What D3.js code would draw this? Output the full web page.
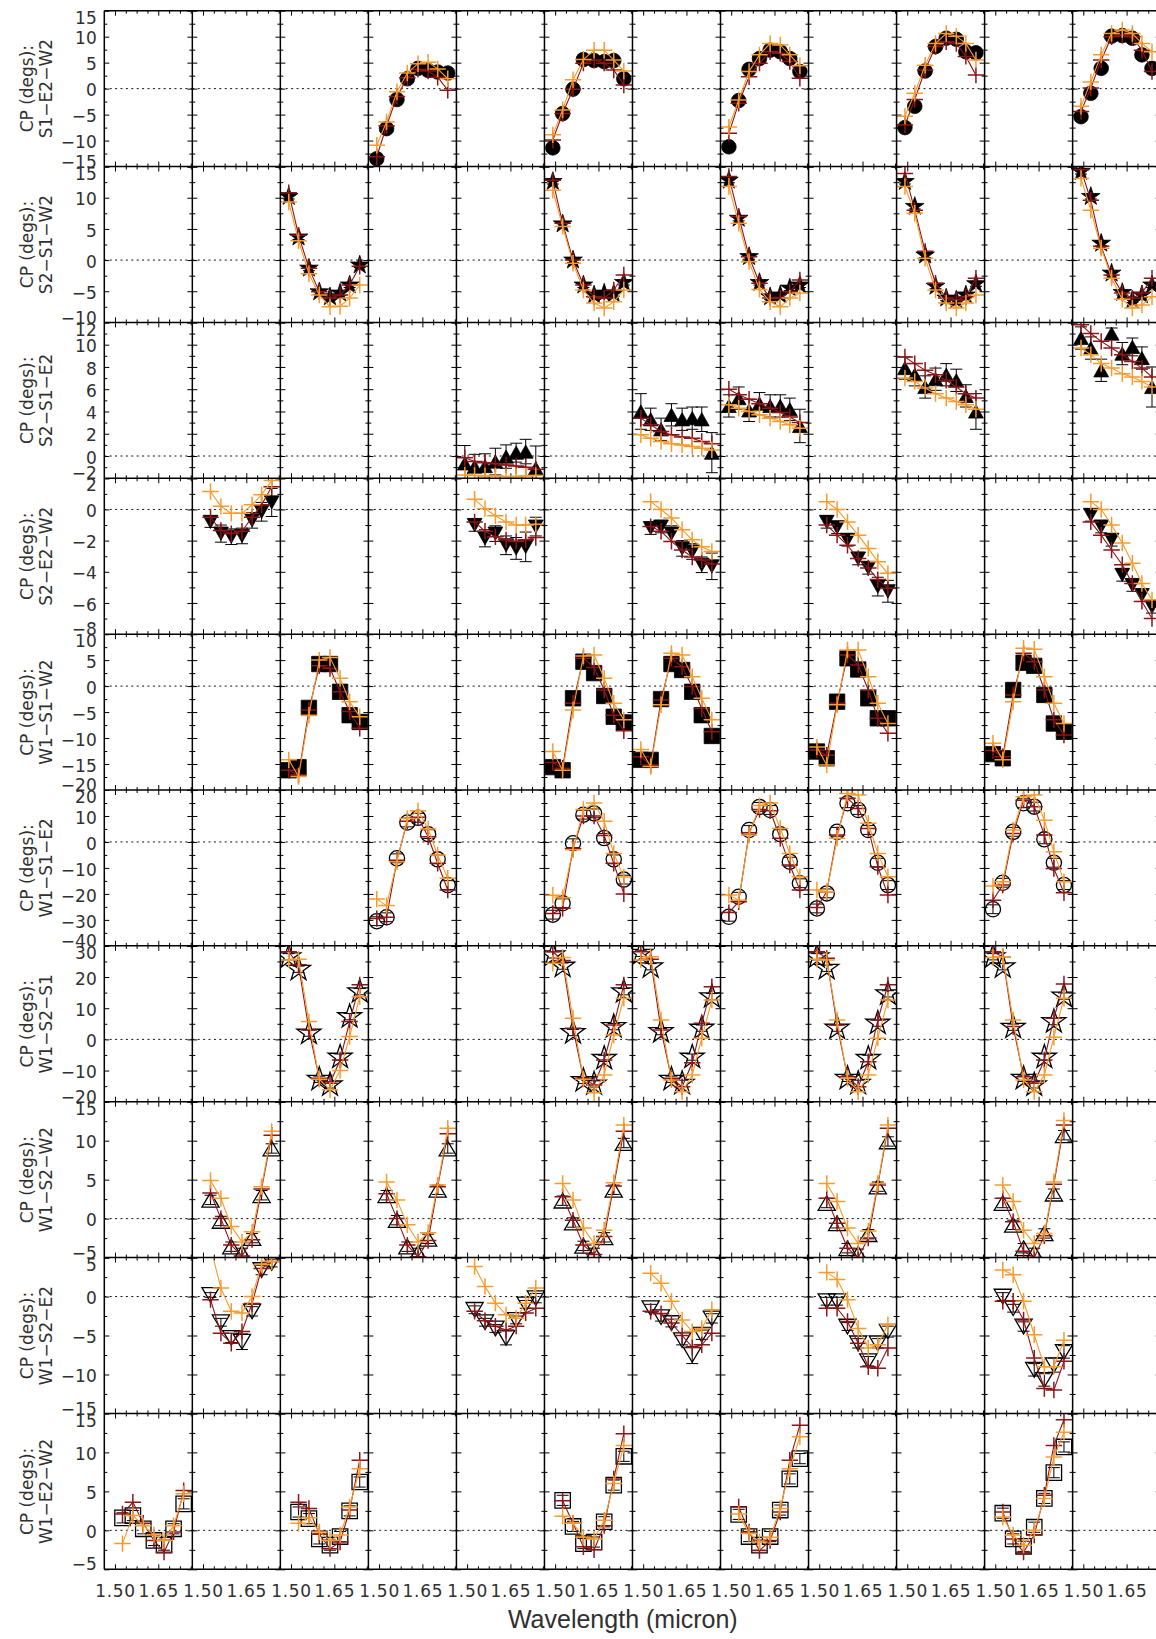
<!DOCTYPE html>
<html>
<head>
<meta charset="utf-8">
<script src="https://cdn.jsdelivr.net/npm/d3@7"></script>
<style>
  html, body { margin: 0; padding: 0; background: #ffffff; }
  svg { display: block; }
</style>
</head>
<body>
<svg id="chart" width="1156" height="1639"></svg>
<script>
// ---------------------------------------------------------------
// Closure phases per baseline triangle vs. spectral channel
// ---------------------------------------------------------------

// spectral channels (micron)
const wavelength = [1.492, 1.526, 1.562, 1.598, 1.635, 1.670, 1.703, 1.738];
const xTicks = [1.50, 1.65];
const xMinorTicks = [1.5375, 1.575, 1.6125, 1.6875, 1.725, 1.7625];
const xDomain = [1.463, 1.768];

// one row per triangle
const triangleNames = ["S1−E2−W2", "S2−S1−W2", "S2−S1−E2", "S2−E2−W2", "W1−S1−W2",
                       "W1−S1−E2", "W1−S2−S1", "W1−S2−W2", "W1−S2−E2", "W1−E2−W2"];
const yRanges = [[-15, 15], [-10, 15], [-2, 12], [-8, 2], [-20, 10],
                 [-40, 20], [-20, 30], [-5, 15], [-15, 5], [-5, 15]];
const yTickSteps = [5, 5, 2, 2, 5, 10, 10, 5, 5, 5];

// --- S1-E2-W2 ---
const S1E2W2_cols = [4, 6, 8, 10, 12];
const S1E2W2_cp = [
  [-13.5, -7.7, -2.1, 1.9, 3.9, 3.5, 3.2, 3.0],
  [-11.4, -4.8, -0.1, 5.6, 5.4, 5.2, 5.4, 1.9],
  [-11.2, -2.3, 3.7, 5.8, 7.4, 7.1, 5.8, 3.3],
  [-7.5, -3.4, 3.4, 8.1, 9.7, 9.5, 7.1, 6.9],
  [-5.4, -0.9, 3.9, 10.1, 10.2, 9.7, 6.5, 3.9]];
const S1E2W2_err = [
  [0.4, 0.4, 0.4, 0.4, 0.4, 0.4, 0.4, 0.4],
  [0.4, 0.4, 0.4, 0.4, 0.4, 0.4, 0.4, 0.4],
  [0.4, 0.4, 0.4, 0.4, 0.4, 0.4, 0.4, 0.4],
  [0.4, 0.4, 0.4, 0.4, 0.4, 0.4, 0.4, 0.4],
  [0.4, 0.4, 0.4, 0.4, 0.4, 0.4, 0.4, 0.4]];
const S1E2W2_model1 = [
  [-13.1, -7.2, -1.5, 2.1, 3.7, 3.4, 2.2, -0.3],
  [-9.9, -4.8, -0.1, 4.9, 5.5, 4.9, 3.6, 0.7],
  [-8.6, -2.8, 2.3, 4.9, 7.1, 6.8, 5.2, 2.0],
  [-7.0, -2.1, 3.6, 8.1, 9.0, 8.7, 6.2, 2.6],
  [-4.4, 0.1, 5.5, 10.0, 10.3, 10.0, 7.4, 3.3]];
const S1E2W2_model2 = [
  [-10.9, -6.4, -0.6, 3.0, 4.8, 5.1, 3.8, 1.9],
  [-8.9, -4.1, 1.7, 5.6, 7.4, 7.4, 5.5, 3.4],
  [-7.4, -2.2, 3.3, 6.5, 8.7, 8.4, 6.5, 4.4],
  [-5.3, -0.9, 4.5, 8.7, 10.6, 10.1, 8.7, 5.5],
  [-3.4, 1.3, 6.5, 10.6, 11.3, 10.6, 8.7, 7.1]];

// --- S2-S1-W2 ---
const S2S1W2_cols = [3, 6, 8, 10, 12];
const S2S1W2_cp = [
  [10.2, 3.7, -1.3, -5.1, -5.9, -5.3, -4.0, -0.8],
  [12.6, 5.8, 0.0, -4.0, -5.6, -5.3, -5.4, -3.6],
  [12.8, 6.7, 0.55, -3.6, -5.9, -5.6, -4.5, -4.0],
  [12.6, 8.6, 0.8, -4.2, -6.1, -6.4, -5.6, -3.8],
  [14.2, 10.2, 2.7, -2.1, -5.2, -6.4, -5.6, -4.0]];
const S2S1W2_err = [
  [0.4, 0.4, 0.4, 0.4, 0.4, 0.4, 0.4, 0.4],
  [0.4, 0.4, 0.4, 0.4, 0.4, 0.4, 0.4, 0.4],
  [0.4, 0.4, 0.4, 0.4, 0.4, 0.4, 0.4, 0.4],
  [0.4, 0.4, 0.4, 0.4, 0.4, 0.4, 0.4, 0.4],
  [0.4, 0.4, 0.4, 0.4, 0.4, 0.4, 0.4, 0.4]];
const S2S1W2_model1 = [
  [10.8, 4.0, -1.3, -5.1, -6.1, -5.6, -4.0, -1.0],
  [12.8, 5.9, 0.0, -4.0, -5.9, -6.1, -4.8, -2.4],
  [13.4, 7.0, 0.55, -3.7, -6.1, -6.1, -5.1, -3.2],
  [13.9, 8.0, 1.4, -3.7, -6.1, -6.4, -5.9, -2.9],
  [14.5, 9.6, 2.2, -2.4, -5.3, -6.1, -5.3, -2.9]];
const S2S1W2_model2 = [
  [9.3, 3.1, -2.2, -5.6, -7.5, -7.4, -6.1, -4.0],
  [11.2, 5.4, -0.5, -4.8, -6.9, -7.7, -6.7, -4.8],
  [11.8, 5.9, -0.25, -4.7, -6.7, -7.5, -6.1, -5.3],
  [11.8, 7.5, 0.3, -4.8, -6.9, -7.7, -6.9, -5.6],
  [13.1, 8.0, 1.9, -2.9, -6.3, -7.7, -7.2, -5.9]];

// --- S2-S1-E2 ---
const S2S1E2_cols = [5, 7, 8, 10, 12];
const S2S1E2_cp = [
  [-0.66, -0.95, -0.9, -0.5, -0.05, 0.3, 0.4, -1.1],
  [4.0, 3.3, 2.4, 3.7, 3.3, 3.4, 3.3, 0.3],
  [4.5, 5.2, 4.1, 4.7, 4.5, 4.5, 4.2, 2.7],
  [7.9, 7.3, 6.2, 6.9, 7.3, 6.8, 5.4, 4.0],
  [10.6, 9.7, 7.7, 11.0, 9.2, 9.8, 8.8, 6.2]];
const S2S1E2_err = [
  [1.6, 1.1, 1.1, 1.2, 1.05, 0.85, 1.1, 2.0],
  [1.6, 1.0, 1.0, 1.0, 1.0, 1.0, 1.1, 1.8],
  [1.0, 1.0, 1.0, 1.0, 1.0, 1.0, 1.0, 1.5],
  [1.0, 1.0, 1.0, 1.0, 1.0, 1.0, 1.0, 1.6],
  [1.0, 1.0, 1.0, 0.5, 1.0, 0.8, 1.0, 1.8]];
const S2S1E2_model1 = [
  [-0.15, -0.5, -0.6, -0.7, -0.8, -0.9, -1.0, -1.2],
  [3.4, 2.8, 2.2, 1.9, 1.7, 1.6, 1.3, 1.1],
  [6.0, 5.5, 5.1, 4.7, 4.3, 3.9, 3.5, 3.0],
  [8.9, 8.3, 7.7, 7.3, 6.8, 6.2, 5.6, 5.2],
  [11.8, 11.0, 10.3, 9.7, 9.1, 8.5, 7.9, 7.1]];
const S2S1E2_model2 = [
  [-1.7, -1.75, -1.8, -1.8, -1.85, -1.85, -1.8, -1.75],
  [1.9, 1.6, 1.3, 1.1, 1.0, 0.85, 0.7, 0.55],
  [4.6, 4.3, 4.0, 3.7, 3.4, 3.1, 2.8, 2.5],
  [7.0, 6.7, 6.1, 5.6, 5.2, 4.9, 4.6, 4.2],
  [9.7, 9.1, 8.3, 7.9, 7.4, 7.1, 6.7, 6.2]];

// --- S2-E2-W2 (channels 2-8) ---
const S2E2W2_cols = [2, 5, 7, 9, 12];
const S2E2W2_cp = [
  [-0.8, -1.55, -1.75, -1.7, -0.7, -0.15, 0.45],
  [-1.0, -1.85, -1.55, -2.3, -2.5, -2.4, -1.1],
  [-1.2, -1.1, -1.55, -2.5, -2.7, -3.55, -3.65],
  [-0.8, -1.15, -1.95, -3.15, -3.75, -4.95, -5.25],
  [-0.35, -1.1, -1.95, -4.2, -4.85, -5.5, -6.25]];
const S2E2W2_err = [
  [0.35, 0.55, 0.5, 0.5, 0.5, 0.6, 0.9],
  [0.4, 0.55, 0.5, 0.6, 0.7, 0.95, 0.6],
  [0.4, 0.4, 0.5, 0.5, 0.5, 0.5, 0.85],
  [0.4, 0.4, 0.4, 0.4, 0.4, 0.6, 0.7],
  [0.4, 0.4, 0.4, 0.4, 0.4, 0.4, 0.4]];
const S2E2W2_model1 = [
  [-0.5, -1.35, -1.55, -1.4, -0.5, 0.3, 1.45],
  [-0.8, -1.4, -1.75, -1.95, -2.05, -1.95, -1.8],
  [-1.1, -1.4, -2.05, -2.6, -3.05, -3.25, -3.5],
  [-1.0, -1.65, -2.3, -3.15, -3.75, -4.5, -5.05],
  [-0.8, -1.65, -2.6, -3.55, -4.75, -5.9, -7.0]];
const S2E2W2_model2 = [
  [1.15, 0.2, -0.25, -0.25, 0.3, 0.95, 1.85],
  [0.65, 0.05, -0.4, -0.8, -1.0, -1.0, -0.95],
  [0.5, 0.0, -0.55, -1.3, -1.95, -2.4, -2.7],
  [0.5, 0.0, -0.8, -1.65, -2.5, -3.35, -4.1],
  [0.5, 0.0, -1.0, -2.15, -3.45, -4.75, -5.8]];

// --- W1-S1-W2 ---
const W1S1W2_cols = [3, 6, 7, 9, 11];
const W1S1W2_cp = [
  [-16.2, -15.6, -4.2, 4.25, 4.25, -1.1, -5.6, -6.9],
  [-15.6, -16.2, -2.35, 4.7, 2.5, -1.9, -5.9, -7.0],
  [-14.2, -14.2, -2.5, 4.25, 3.1, -1.1, -5.6, -9.6],
  [-12.6, -13.9, -3.0, 5.35, 3.2, -2.35, -6.2, -6.2],
  [-13.1, -13.9, -0.75, 4.5, 3.9, -1.7, -7.2, -8.8]];
const W1S1W2_err = [
  [0.5, 0.5, 0.5, 0.5, 0.5, 0.5, 0.5, 0.5],
  [0.5, 0.5, 0.5, 0.5, 0.5, 0.5, 0.5, 0.5],
  [0.5, 0.5, 0.5, 0.5, 0.5, 0.5, 0.5, 0.5],
  [0.5, 0.5, 0.5, 0.5, 0.5, 0.5, 0.5, 0.5],
  [0.5, 0.5, 0.5, 0.5, 0.5, 0.5, 0.5, 0.5]];
const W1S1W2_model1 = [
  [-16.2, -17.1, -4.6, 3.9, 3.4, -1.1, -4.9, -8.1],
  [-14.7, -15.8, -3.3, 5.35, 3.6, -0.75, -5.6, -8.6],
  [-13.6, -15.2, -2.7, 5.35, 3.7, -0.1, -4.3, -8.8],
  [-12.3, -13.3, -3.3, 6.0, 4.05, -0.75, -6.2, -9.1],
  [-12.4, -13.6, -1.7, 6.3, 4.7, -0.75, -6.5, -9.4]];
const W1S1W2_model2 = [
  [-14.2, -17.4, -5.6, 5.0, 5.5, 1.5, -3.0, -5.9],
  [-12.6, -16.2, -4.6, 5.8, 6.0, 1.5, -3.3, -6.5],
  [-12.2, -15.5, -3.6, 6.3, 6.0, 1.8, -2.35, -6.5],
  [-11.7, -15.2, -3.6, 6.95, 6.95, 1.8, -3.3, -7.2],
  [-11.0, -14.2, -3.0, 7.3, 7.1, 1.8, -3.3, -7.2]];

// --- W1-S1-E2 ---
const W1S1E2_cols = [4, 6, 8, 9, 11];
const W1S1E2_cp = [
  [-30.5, -29.0, -6.3, 7.5, 9.3, 3.0, -6.7, -16.6],
  [-28.0, -23.6, -0.5, 10.5, 11.0, 1.5, -6.7, -14.5],
  [-28.8, -21.1, 4.6, 13.5, 12.3, 3.0, -7.6, -15.9],
  [-25.6, -19.8, 3.9, 14.9, 12.3, 4.6, -8.0, -16.6],
  [-25.9, -15.7, 3.9, 14.9, 13.6, 1.0, -8.0, -16.6]];
const W1S1E2_err = [
  [1.7, 1.7, 1.7, 1.7, 1.7, 1.7, 1.7, 1.7],
  [1.7, 1.7, 1.7, 1.7, 1.7, 1.7, 1.7, 1.7],
  [1.7, 1.7, 1.7, 1.7, 1.7, 1.7, 1.7, 1.7],
  [1.7, 1.7, 1.7, 1.7, 1.7, 1.7, 1.7, 1.7],
  [1.7, 1.7, 1.7, 1.7, 1.7, 1.7, 1.7, 1.7]];
const W1S1E2_model1 = [
  [-29.5, -29.0, -7.0, 8.0, 9.5, 2.0, -8.2, -18.5],
  [-27.5, -25.5, -2.5, 10.0, 10.0, 2.5, -8.2, -20.0],
  [-27.2, -23.0, 3.5, 12.5, 12.0, 1.4, -8.9, -18.5],
  [-25.2, -19.2, 2.7, 16.8, 12.9, 5.2, -9.5, -20.4],
  [-22.4, -16.6, 3.3, 16.1, 13.6, 2.7, -10.2, -19.6]];
const W1S1E2_model2 = [
  [-22.0, -24.5, -7.6, 9.0, 12.0, 5.0, -5.0, -14.0],
  [-20.5, -21.5, -3.0, 12.5, 15.0, 8.0, -4.4, -13.5],
  [-20.4, -22.4, 2.7, 14.0, 15.0, 5.2, -4.4, -13.4],
  [-18.5, -19.2, 1.4, 18.7, 18.1, 7.2, -4.4, -13.4],
  [-17.0, -15.3, 4.6, 17.4, 18.1, 8.4, -3.8, -15.3]];

// --- W1-S2-S1 ---
const W1S2S1_cols = [3, 6, 7, 9, 11];
const W1S2S1_cp = [
  [26.5, 22.5, 2.0, -12.8, -14.6, -5.7, 7.3, 15.3],
  [27.1, 23.5, 2.2, -13.2, -14.3, -6.1, 4.1, 15.3],
  [27.6, 23.3, 2.5, -12.8, -14.1, -5.7, 3.6, 13.7],
  [26.5, 22.8, 3.6, -12.5, -14.1, -6.1, 5.2, 14.6],
  [26.5, 23.3, 3.9, -12.5, -14.6, -5.7, 5.7, 13.9]];
const W1S2S1_err = [
  [1.0, 1.0, 1.0, 1.0, 1.0, 1.0, 1.0, 1.0],
  [1.0, 1.0, 1.0, 1.0, 1.0, 1.0, 1.0, 1.0],
  [1.0, 1.0, 1.0, 1.0, 1.0, 1.0, 1.0, 1.0],
  [1.0, 1.0, 1.0, 1.0, 1.0, 1.0, 1.0, 1.0],
  [1.0, 1.0, 1.0, 1.0, 1.0, 1.0, 1.0, 1.0]];
const W1S2S1_model1 = [
  [28.1, 23.9, 3.0, -12.5, -14.1, -6.6, 5.7, 17.5],
  [28.1, 25.3, 3.6, -12.5, -14.6, -6.6, 4.6, 17.5],
  [28.1, 25.7, 3.0, -12.5, -15.2, -7.5, 5.2, 16.9],
  [28.1, 26.0, 4.6, -12.0, -15.2, -7.2, 6.2, 17.5],
  [28.1, 26.5, 4.1, -12.0, -14.1, -6.6, 6.8, 17.8]];
const W1S2S1_model2 = [
  [25.5, 25.7, 5.7, -12.8, -16.2, -10.0, 0.9, 13.7],
  [24.4, 26.3, 6.8, -12.8, -17.1, -11.4, 1.4, 13.2],
  [25.5, 26.5, 6.2, -13.0, -16.8, -11.4, 0.4, 12.6],
  [25.7, 25.5, 6.2, -12.5, -16.8, -11.4, 0.4, 12.6],
  [26.3, 26.5, 6.2, -13.0, -16.8, -11.4, 0.7, 13.2]];

// --- W1-S2-W2 (channels 2-8) ---
const W1S2W2_cols = [2, 4, 6, 9, 11];
const W1S2W2_cp = [
  [2.4, -0.3, -3.6, -4.4, -2.5, 3.0, 9.0],
  [3.0, -0.2, -3.6, -4.4, -2.6, 3.7, 9.0],
  [2.3, -0.5, -3.5, -4.4, -2.4, 3.7, 9.7],
  [2.0, -0.6, -3.8, -4.5, -2.0, 4.1, 9.9],
  [2.0, -0.8, -3.8, -4.4, -1.9, 3.2, 10.7]];
const W1S2W2_err = [
  [0.6, 0.6, 0.6, 0.6, 0.6, 0.6, 0.6],
  [0.6, 0.6, 0.6, 0.6, 0.6, 0.6, 0.6],
  [0.6, 0.6, 0.6, 0.6, 0.6, 0.6, 0.6],
  [0.6, 0.6, 0.6, 0.6, 0.6, 0.6, 0.6],
  [0.6, 0.6, 0.6, 0.6, 0.6, 0.6, 0.6]];
const W1S2W2_model1 = [
  [3.3, 0.0, -3.4, -4.8, -2.7, 3.8, 10.7],
  [3.2, 0.0, -3.4, -4.9, -2.8, 4.1, 10.9],
  [2.8, -0.2, -3.4, -4.6, -2.3, 4.2, 11.2],
  [2.6, -0.6, -3.8, -5.0, -2.5, 4.3, 11.6],
  [2.6, -0.4, -4.2, -5.0, -2.2, 4.4, 12.0]];
const W1S2W2_model2 = [
  [4.9, 2.6, -1.0, -3.0, -1.7, 4.1, 11.2],
  [4.7, 2.4, -0.8, -3.0, -1.8, 4.3, 11.6],
  [4.5, 2.4, -1.2, -3.2, -1.5, 4.6, 12.0],
  [4.5, 2.2, -1.2, -3.2, -1.6, 4.5, 12.0],
  [4.3, 2.2, -1.5, -3.2, -1.9, 4.7, 12.6]];

// --- W1-S2-E2 (channels 2-8) ---
const W1S2E2_cols = [2, 5, 7, 9, 11];
const W1S2E2_cp = [
  [0.2, -3.3, -5.3, -5.8, -1.9, 3.4, 4.3],
  [-1.7, -3.3, -4.1, -5.3, -3.0, -1.0, -0.2],
  [-1.5, -2.65, -3.4, -5.6, -7.5, -4.9, -2.8],
  [-0.6, -0.6, -3.85, -6.0, -8.3, -6.0, -4.5],
  [0.0, -1.5, -3.85, -9.4, -10.7, -8.8, -7.1]];
const W1S2E2_err = [
  [0.3, 0.5, 0.6, 1.0, 0.6, 0.6, 0.5],
  [0.5, 0.5, 0.5, 0.9, 0.5, 0.5, 0.6],
  [0.5, 0.5, 0.5, 0.6, 1.1, 0.6, 0.6],
  [0.5, 0.5, 0.5, 0.6, 0.6, 0.6, 0.7],
  [0.5, 0.5, 0.6, 0.8, 0.8, 0.9, 0.8]];
const W1S2E2_model1 = [
  [-0.4, -4.7, -6.0, -4.5, -0.9, 3.6, 4.5],
  [-1.9, -3.1, -3.8, -4.3, -3.8, -2.1, -1.5],
  [-1.9, -2.2, -3.4, -5.0, -6.5, -6.2, -4.7],
  [-1.5, -1.5, -3.2, -6.0, -9.0, -9.2, -6.6],
  [-0.6, -0.6, -3.0, -7.9, -11.8, -12.0, -8.3]];
const W1S2E2_model2 = [
  [6.3, 1.1, -1.9, -2.1, 0.0, 4.1, 4.5],
  [3.85, 1.3, -0.85, -2.35, -2.8, -0.85, 1.1],
  [3.0, 1.7, -0.6, -3.0, -4.5, -4.1, -1.7],
  [3.1, 2.2, -0.4, -4.1, -6.6, -6.2, -3.6],
  [3.4, 2.8, -0.6, -4.9, -9.0, -9.0, -5.6]];

// --- W1-E2-W2 (channels 2-8) ---
const W1E2W2_cols = [1, 3, 6, 8, 11];
const W1E2W2_cp = [
  [1.6, 1.9, 0.2, -1.3, -1.9, 0.2, 3.4],
  [2.35, 1.5, -1.1, -1.9, -0.8, 2.5, 6.2],
  [3.85, 0.5, -1.7, -1.5, 1.1, 5.8, 9.5],
  [2.05, -0.8, -1.9, -0.8, 2.6, 6.6, 9.2],
  [2.2, -1.1, -2.05, 0.4, 4.1, 7.4, 10.7]];
const W1E2W2_err = [
  [0.65, 0.65, 0.65, 0.65, 0.65, 0.65, 0.65],
  [0.65, 0.65, 0.65, 0.65, 0.65, 0.65, 0.65],
  [0.65, 0.65, 0.65, 0.65, 0.65, 0.65, 0.65],
  [0.65, 0.65, 0.65, 0.65, 0.65, 0.65, 0.65],
  [0.65, 0.65, 0.65, 0.65, 0.65, 0.65, 0.65]];
const W1E2W2_model1 = [
  [2.1, 3.6, 0.9, -1.3, -2.8, -0.2, 5.1],
  [3.6, 2.8, -0.5, -2.35, -1.5, 2.6, 9.0],
  [3.8, 0.9, -2.1, -2.5, 0.6, 6.6, 12.4],
  [3.0, -0.2, -2.6, -1.3, 2.35, 9.0, 13.5],
  [2.35, -1.1, -2.8, -0.6, 4.5, 10.9, 14.2]];
const W1E2W2_model2 = [
  [-1.7, 1.9, 0.6, -0.6, -1.3, 0.6, 4.7],
  [0.9, 1.6, -0.2, -1.3, -0.6, 3.0, 7.9],
  [1.8, 0.9, -0.9, -1.1, 1.3, 6.0, 10.9],
  [2.1, -0.4, -1.5, -0.9, 2.8, 7.9, 12.0],
  [1.7, -0.6, -1.9, 0.0, 4.1, 9.4, 12.6]];

// ---------------------------------------------------------------
// styling
// ---------------------------------------------------------------
const markerShapes = ["circle", "star", "up", "down", "square", "circle", "star", "up", "down", "square"];
const markerFilled = [true, true, true, true, true, false, false, false, false, false];
const COLOR_OBS = "#000000";
const COLOR_M1 = "#8e1518";
const COLOR_M2 = "#f99a2c";
const TICK_FONT = "'DejaVu Sans', 'Liberation Sans', sans-serif";
const TITLE_FONT = "'Liberation Sans', Arial, Helvetica, sans-serif";
const TEXT_COLOR = "#303030";

const rows = [
  [S1E2W2_cols, S1E2W2_cp, S1E2W2_err, S1E2W2_model1, S1E2W2_model2],
  [S2S1W2_cols, S2S1W2_cp, S2S1W2_err, S2S1W2_model1, S2S1W2_model2],
  [S2S1E2_cols, S2S1E2_cp, S2S1E2_err, S2S1E2_model1, S2S1E2_model2],
  [S2E2W2_cols, S2E2W2_cp, S2E2W2_err, S2E2W2_model1, S2E2W2_model2],
  [W1S1W2_cols, W1S1W2_cp, W1S1W2_err, W1S1W2_model1, W1S1W2_model2],
  [W1S1E2_cols, W1S1E2_cp, W1S1E2_err, W1S1E2_model1, W1S1E2_model2],
  [W1S2S1_cols, W1S2S1_cp, W1S2S1_err, W1S2S1_model1, W1S2S1_model2],
  [W1S2W2_cols, W1S2W2_cp, W1S2W2_err, W1S2W2_model1, W1S2W2_model2],
  [W1S2E2_cols, W1S2E2_cp, W1S2E2_err, W1S2E2_model1, W1S2E2_model2],
  [W1E2W2_cols, W1E2W2_cp, W1E2W2_err, W1E2W2_model1, W1E2W2_model2]
].map(([cols, cp, err, m1, m2], i) => ({
  name: triangleNames[i], range: yRanges[i], step: yTickSteps[i],
  shape: markerShapes[i], filled: markerFilled[i], cols, cp, err, m1, m2
}));

// ---------------------------------------------------------------
// layout
// ---------------------------------------------------------------
const LEFT = 104.3, TOP = 10.7, COL_W = 88.03, ROW_H = 155.86, N_COLS = 12;
const svg = d3.select("#chart");
const defs = svg.append("defs");
svg.append("rect").attr("width", 1156).attr("height", 1639).attr("fill", "#fff");

function colLeft(c) { return LEFT + c * COL_W; }

function markerPath(shape, filled) {
  if (shape === "circle") {
    const r = filled ? 7.3 : 7.6;
    return d3.symbol(d3.symbolCircle, Math.PI * r * r)();
  }
  if (shape === "square") {
    const s = 15.4;
    return d3.symbol(d3.symbolSquare, s * s)();
  }
  if (shape === "star") {
    const R = filled ? 9.8 : 12.6;
    return d3.symbol(d3.symbolStar, R * R / 0.8908130915292852)();
  }
  const w = filled ? 7.4 : 8.6;
  const h = filled ? 6.6 : 7.3;
  if (shape === "up") return `M0,${-h}L${w},${h}L${-w},${h}Z`;
  return `M0,${h}L${w},${-h}L${-w},${-h}Z`;
}

const crossPath = "M-8.2,0H8.2M0,-8.2V8.2";

function tickAxis(g, axis, values, size) {
  g.call(axis.tickValues(values).tickSize(size).tickFormat(""));
  g.select(".domain").remove();
  g.selectAll(".tick line").attr("stroke", "#000").attr("stroke-width", 1);
}

rows.forEach((row, r) => {
  const top = TOP + r * ROW_H, bottom = top + ROW_H;
  const y = d3.scaleLinear().domain(row.range).range([bottom, top]);
  const [lo, hi] = row.range;
  const major = d3.range(lo, hi + 1e-9, row.step);
  const minor = d3.range(lo + row.step / 2, hi, row.step);

  for (let c = 0; c < N_COLS; c++) {
    const left = colLeft(c);
    const x = d3.scaleLinear().domain(xDomain).range([left, left + COL_W]);
    const g = svg.append("g").attr("class", `panel r${r} c${c}`);

    // zero reference
    g.append("line")
      .attr("x1", left).attr("x2", left + COL_W)
      .attr("y1", y(0)).attr("y2", y(0))
      .attr("stroke", "#111").attr("stroke-width", 1)
      .attr("stroke-dasharray", "2,3.4");

    // inward ticks on all four sides
    tickAxis(g.append("g").attr("transform", `translate(0,${bottom})`), d3.axisTop(x), xTicks, 5);
    tickAxis(g.append("g").attr("transform", `translate(0,${bottom})`), d3.axisTop(x), xMinorTicks, 3);
    tickAxis(g.append("g").attr("transform", `translate(0,${top})`), d3.axisBottom(x), xTicks, 5);
    tickAxis(g.append("g").attr("transform", `translate(0,${top})`), d3.axisBottom(x), xMinorTicks, 3);
    tickAxis(g.append("g").attr("transform", `translate(${left},0)`), d3.axisRight(y), major, 5);
    tickAxis(g.append("g").attr("transform", `translate(${left},0)`), d3.axisRight(y), minor, 3);
    tickAxis(g.append("g").attr("transform", `translate(${left + COL_W},0)`), d3.axisLeft(y), major, 5);
    tickAxis(g.append("g").attr("transform", `translate(${left + COL_W},0)`), d3.axisLeft(y), minor, 3);

    // x tick labels on the bottom row
    if (r === rows.length - 1) {
      const ax = svg.append("g").attr("transform", `translate(0,${bottom})`)
        .call(d3.axisBottom(x).tickValues(xTicks).tickSize(0).tickPadding(15.3).tickFormat(d3.format(".2f")));
      ax.select(".domain").remove();
      ax.selectAll("text").attr("font-family", TICK_FONT).attr("font-size", 17)
        .attr("letter-spacing", "0.7px").attr("fill", TEXT_COLOR);
    }
  }

  // y tick labels on the first column
  const yl = svg.append("g").attr("transform", `translate(${LEFT},0)`)
    .call(d3.axisLeft(y).tickValues(major).tickSize(0).tickPadding(7.6).tickFormat(d3.format("d")));
  yl.select(".domain").remove();
  yl.selectAll("text")
    .attr("font-family", TICK_FONT).attr("font-size", 17).attr("fill", TEXT_COLOR)
    .attr("dy", d => d === hi ? "0.74em" : (d === lo ? "0.04em" : "0.42em"));

  // axis title
  const cy = top + ROW_H / 2;
  svg.append("g").attr("transform", `translate(33,${cy}) rotate(-90)`)
    .append("text").attr("text-anchor", "middle")
    .attr("font-family", TICK_FONT).attr("font-size", 17).attr("fill", TEXT_COLOR)
    .text("CP (degs):");
  svg.append("g").attr("transform", `translate(52,${cy}) rotate(-90)`)
    .append("text").attr("text-anchor", "middle")
    .attr("font-family", TICK_FONT).attr("font-size", 17).attr("fill", TEXT_COLOR)
    .text(row.name);

  // measured closure phases and two model curves
  row.cols.forEach((colNum, k) => {
    const c = colNum - 1;
    const left = colLeft(c);
    const x = d3.scaleLinear().domain(xDomain).range([left, left + COL_W]);
    const obs = row.cp[k];
    const wl = wavelength.slice(wavelength.length - obs.length);
    const clipId = `clip-${r}-${c}`;
    defs.append("clipPath").attr("id", clipId).append("rect")
      .attr("x", left).attr("y", top).attr("width", COL_W).attr("height", ROW_H);
    const g = svg.append("g").attr("clip-path", `url(#${clipId})`);

    const pts = obs.map((v, i) => ({ w: wl[i], v, e: row.err[k][i] }));

    // error bars
    const eb = g.append("g").attr("stroke", COLOR_OBS).attr("stroke-width", 1).attr("fill", "none");
    pts.forEach(p => {
      const px = x(p.w), y1 = y(p.v - p.e), y2 = y(p.v + p.e);
      eb.append("path").attr("d", `M${px},${y1}V${y2}M${px - 6},${y1}H${px + 6}M${px - 6},${y2}H${px + 6}`);
    });

    // observed markers
    const mp = markerPath(row.shape, row.filled);
    g.append("g").selectAll("path").data(pts).join("path")
      .attr("d", mp)
      .attr("transform", d => `translate(${x(d.w)},${y(d.v)})`)
      .attr("fill", row.filled ? COLOR_OBS : "none")
      .attr("stroke", COLOR_OBS)
      .attr("stroke-width", row.filled ? 0.8 : 1.3);

    // model curves
    [[row.m1[k], COLOR_M1], [row.m2[k], COLOR_M2]].forEach(([vals, col]) => {
      const mpts = vals.map((v, i) => ({ w: wl[i], v }));
      g.append("path").datum(mpts)
        .attr("d", d3.line().x(d => x(d.w)).y(d => y(d.v)))
        .attr("fill", "none").attr("stroke", col).attr("stroke-width", 1.1);
      g.append("g").selectAll("path").data(mpts).join("path")
        .attr("d", crossPath)
        .attr("transform", d => `translate(${x(d.w)},${y(d.v)})`)
        .attr("fill", "none").attr("stroke", col).attr("stroke-width", 1.5);
    });
  });
});

// panel frames
const frame = svg.append("g").attr("stroke", "#000").attr("stroke-width", 1.5);
for (let r = 0; r <= rows.length; r++) {
  const yy = TOP + r * ROW_H;
  frame.append("line").attr("x1", LEFT).attr("x2", LEFT + N_COLS * COL_W).attr("y1", yy).attr("y2", yy);
}
for (let c = 0; c <= N_COLS; c++) {
  const xx = colLeft(c);
  frame.append("line").attr("x1", xx).attr("x2", xx).attr("y1", TOP).attr("y2", TOP + rows.length * ROW_H);
}

// x axis title
svg.append("text")
  .attr("x", 622.8).attr("y", 1628.3).attr("text-anchor", "middle")
  .attr("font-family", TITLE_FONT).attr("font-size", 25).attr("fill", TEXT_COLOR)
  .text("Wavelength (micron)");
</script>
</body>
</html>
